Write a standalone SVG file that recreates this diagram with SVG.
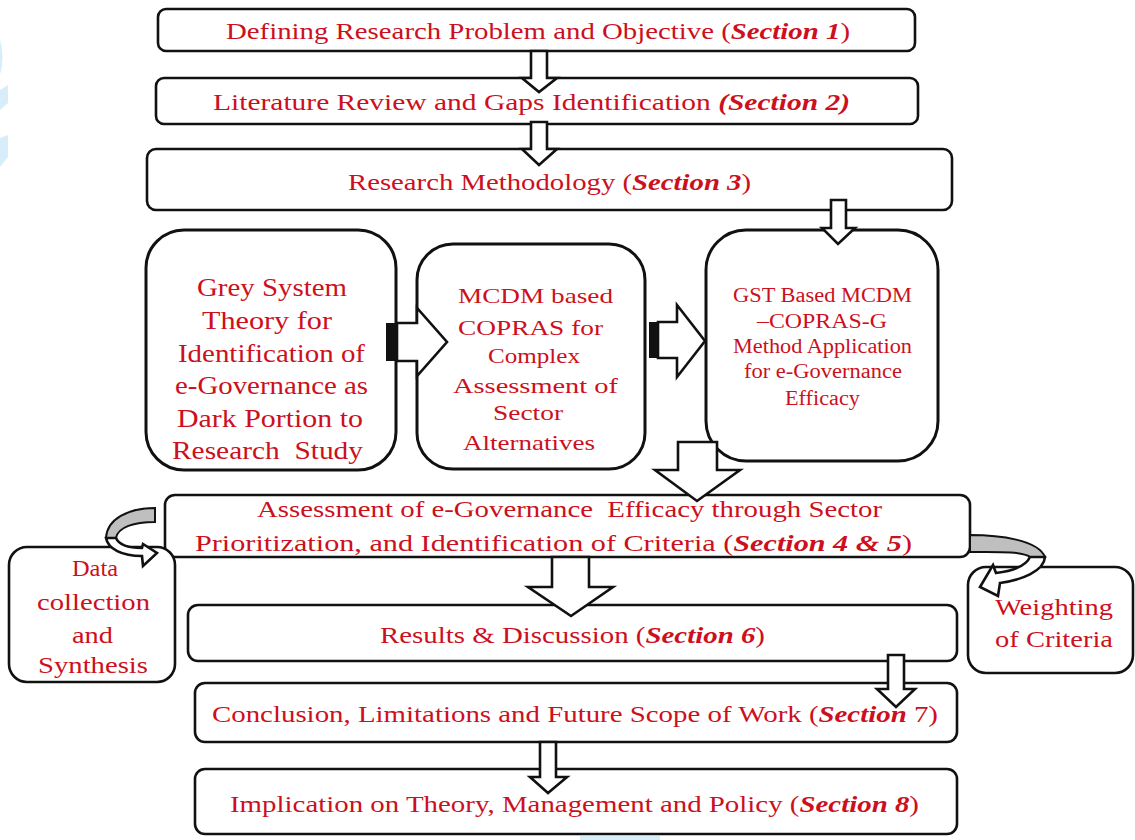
<svg xmlns="http://www.w3.org/2000/svg" width="1135" height="840" viewBox="0 0 1135 840">
<style>
.box{fill:#fff;stroke:#111;stroke-width:2.6}
.bigbox{fill:#fff;stroke:#111;stroke-width:3}
.t{font-family:"Liberation Serif","Times New Roman",serif;fill:#cc1020;font-size:24px}
.s{font-weight:bold;font-style:italic}
.arr{fill:#fff;stroke:#111;stroke-width:2.6;stroke-linejoin:miter}
.blk{fill:#111}
.grey{fill:#bfbfbf;stroke:#111;stroke-width:2}
.wm{fill:#d8edfa}
</style>
<rect width="1135" height="840" fill="#fff"/>
<g id="watermark">
<path class="wm" d="M0,40 Q5,57 0,75 Z"/>
<polygon class="wm" points="0,90 8,85 8,103 0,110"/>
<polygon class="wm" points="0,138 8,135 8,157 0,167"/>
<rect class="wm" x="580" y="836" width="80" height="4"/>
</g>

<g id="n1"><rect class="box" x="158" y="9" width="757" height="42" rx="8"/>
<text class="t" x="226" y="39" textLength="624" lengthAdjust="spacingAndGlyphs">Defining Research Problem and Objective (<tspan class="s">Section 1</tspan>)</text></g>

<g id="n2"><rect class="box" x="156" y="78" width="762" height="46" rx="8"/>
<text class="t" x="213" y="110" textLength="637" lengthAdjust="spacingAndGlyphs">Literature Review and Gaps Identification <tspan class="s">(Section 2)</tspan></text></g>

<g id="n3"><rect class="box" x="147" y="149" width="805" height="61" rx="9"/>
<text class="t" x="348" y="190" textLength="403" lengthAdjust="spacingAndGlyphs">Research Methodology (<tspan class="s">Section 3</tspan>)</text></g>

<g id="n4"><rect class="bigbox" x="146" y="230" width="250" height="240" rx="38"/>
<text class="t" style="font-size:25px" x="197" y="296" textLength="150" lengthAdjust="spacingAndGlyphs">Grey System</text>
<text class="t" style="font-size:25px" x="202" y="329" textLength="130" lengthAdjust="spacingAndGlyphs">Theory for</text>
<text class="t" style="font-size:25px" x="178" y="362" textLength="187" lengthAdjust="spacingAndGlyphs">Identification of</text>
<text class="t" style="font-size:25px" x="175" y="394" textLength="193" lengthAdjust="spacingAndGlyphs">e-Governance as</text>
<text class="t" style="font-size:25px" x="177" y="427" textLength="186" lengthAdjust="spacingAndGlyphs">Dark Portion to</text>
<text class="t" style="font-size:25px" x="172" y="459" textLength="191" lengthAdjust="spacingAndGlyphs" xml:space="preserve">Research  Study</text></g>

<g id="n5"><rect class="bigbox" x="417" y="244" width="228" height="225" rx="36"/>
<text class="t" style="font-size:22px" x="458" y="303" textLength="155" lengthAdjust="spacingAndGlyphs">MCDM based</text>
<text class="t" style="font-size:22px" x="458" y="335" textLength="145" lengthAdjust="spacingAndGlyphs">COPRAS for</text>
<text class="t" style="font-size:22px" x="488" y="363" textLength="92" lengthAdjust="spacingAndGlyphs">Complex</text>
<text class="t" style="font-size:22px" x="453" y="393" textLength="165" lengthAdjust="spacingAndGlyphs">Assessment of</text>
<text class="t" style="font-size:22px" x="493" y="420" textLength="70" lengthAdjust="spacingAndGlyphs">Sector</text>
<text class="t" style="font-size:22px" x="463" y="450" textLength="132" lengthAdjust="spacingAndGlyphs">Alternatives</text></g>

<g id="n6"><rect class="bigbox" x="706" y="230" width="232" height="231" rx="40"/>
<text class="t" style="font-size:20px" x="733" y="302" textLength="179" lengthAdjust="spacingAndGlyphs">GST Based MCDM</text>
<text class="t" style="font-size:20px" x="757" y="328" textLength="130" lengthAdjust="spacingAndGlyphs">–COPRAS-G</text>
<text class="t" style="font-size:20px" x="733" y="353" textLength="179" lengthAdjust="spacingAndGlyphs">Method Application</text>
<text class="t" style="font-size:20px" x="744" y="378" textLength="158" lengthAdjust="spacingAndGlyphs">for e-Governance</text>
<text class="t" style="font-size:20px" x="785" y="405" textLength="75" lengthAdjust="spacingAndGlyphs">Efficacy</text></g>

<g id="n7"><rect class="box" x="165" y="495" width="805" height="62" rx="10"/>
<text class="t" x="257" y="517" textLength="625" lengthAdjust="spacingAndGlyphs" xml:space="preserve">Assessment of e-Governance  Efficacy through Sector</text>
<text class="t" x="195" y="551" textLength="717" lengthAdjust="spacingAndGlyphs">Prioritization, and Identification of Criteria (<tspan class="s">Section 4 &amp; 5</tspan>)</text></g>

<g id="n_data"><rect class="box" x="9" y="547" width="166" height="135" rx="18"/>
<text class="t" x="72" y="576" textLength="46" lengthAdjust="spacingAndGlyphs">Data</text>
<text class="t" x="37" y="610" textLength="113" lengthAdjust="spacingAndGlyphs">collection</text>
<text class="t" x="72" y="643" textLength="41" lengthAdjust="spacingAndGlyphs">and</text>
<text class="t" x="38" y="673" textLength="110" lengthAdjust="spacingAndGlyphs">Synthesis</text></g>

<g id="n_weight"><rect class="box" x="968" y="567" width="165" height="106" rx="18"/>
<text class="t" x="995" y="615" textLength="118" lengthAdjust="spacingAndGlyphs">Weighting</text>
<text class="t" x="995" y="647" textLength="118" lengthAdjust="spacingAndGlyphs">of Criteria</text></g>

<g id="n8"><rect class="box" x="188" y="605" width="769" height="56" rx="10"/>
<text class="t" x="380" y="643" textLength="385" lengthAdjust="spacingAndGlyphs">Results &amp; Discussion (<tspan class="s">Section 6</tspan>)</text></g>

<g id="n9"><rect class="box" x="195" y="683" width="762" height="59" rx="10"/>
<text class="t" x="212" y="722" textLength="726" lengthAdjust="spacingAndGlyphs">Conclusion, Limitations and Future Scope of Work (<tspan class="s">Section</tspan> 7)</text></g>

<g id="n10"><rect class="box" x="195" y="769" width="762" height="65" rx="10"/>
<text class="t" x="230" y="812" textLength="689" lengthAdjust="spacingAndGlyphs">Implication on Theory, Management and Policy (<tspan class="s">Section 8</tspan>)</text></g>

<g id="connectors">
<polygon class="arr" points="531,51 547,51 547,78 557,78 539,92 522,78 531,78"/>
<polygon class="arr" points="531,122 547,122 547,149 557,149 539,165 522,149 531,149"/>
<polygon class="arr" points="831,200 846,200 846,228 855,228 838,244 822,228 831,228"/>
<polygon class="arr" points="397,323 417,323 417,308 447,342 417,376 417,361 397,361"/>
<rect class="blk" x="386" y="323" width="11" height="38"/>
<polygon class="arr" points="658,322 677,322 677,305 705,341 677,377 677,358 658,358"/>
<rect class="blk" x="649" y="322" width="9" height="36"/>
<polygon class="arr" points="678,442 717,442 717,470 740,470 697,501 655,470 678,470"/>
<polygon class="arr" points="552,557 589,557 589,587 613,587 571,616 528,587 552,587"/>
<polygon class="arr" points="888,655 904,655 904,689 915,689 896,707 877,689 888,689"/>
<polygon class="arr" points="540,742 556,742 556,777 567,777 548,793 530,777 540,777"/>
<path class="grey" d="M155,508 C128,508 107,519 106,538 L116,538 C118,527 134,522 155,522 Z"/>
<path class="arr" stroke-width="2" d="M106,538 C108,549 122,556 142,556 L143,566 L157,553 L143,544 L142,548 C128,548 119,545 116,538 Z"/>
<path class="grey" d="M970,535 C1000,535 1038,540 1045,557 L1030,557 C1022,551 996,552 970,552 Z"/>
<path class="arr" stroke-width="2" d="M1045,557 C1044,571 1022,580 1000,583 L998,596 L980,587 L993,565 L996,573 C1012,571 1026,566 1030,557 Z"/>
</g>
</svg>
